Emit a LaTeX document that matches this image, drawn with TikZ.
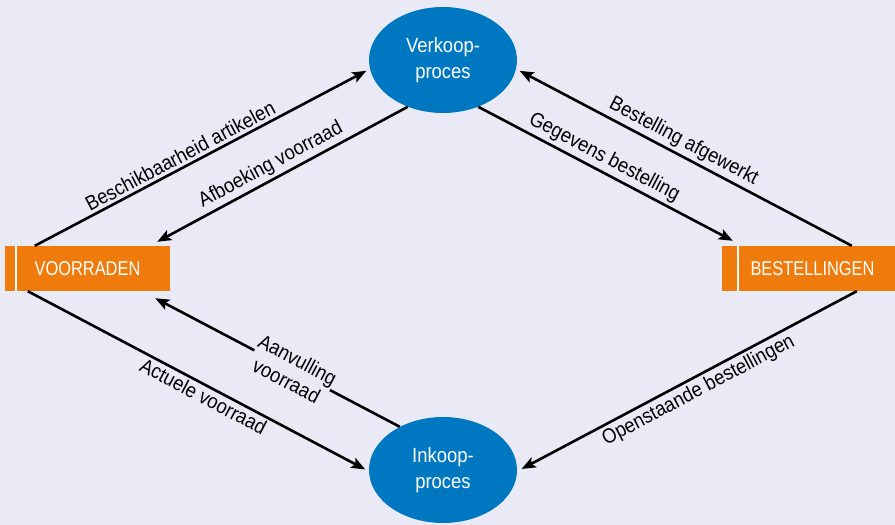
\documentclass[tikz,border=0pt]{standalone}
\usepackage{fontspec}
\setmainfont{Liberation Sans}
\newfontfamily\boxfont{Liberation Sans}[FakeStretch=0.82]
\newfontfamily\lblfont{Liberation Sans}[FakeStretch=0.9]
\usetikzlibrary{arrows.meta,calc,shapes.geometric}

\definecolor{bgcol}{HTML}{E9EAF6}
\definecolor{procblue}{HTML}{0078C1}
\definecolor{storeorange}{HTML}{EF7B0C}

\tikzset{
  proc/.style={ellipse, fill=procblue, text=white, minimum width=148pt,
    minimum height=106pt, inner sep=0pt, align=center,
    font=\lblfont\fontsize{20.5}{26}\selectfont},
  store/.style={rectangle, fill=storeorange, text=white, minimum height=45pt,
    inner sep=0pt, font=\boxfont\fontsize{20}{23}\selectfont},
  flow/.style={line width=2.6pt, -{Stealth[length=14pt,width=11pt,inset=3pt]}},
  lbl/.style={sloped, inner sep=2pt, text=black,
    font=\lblfont\fontsize{20.5}{24}\selectfont},
  divider/.style={white, line width=2pt}
}

\begin{document}
\begin{tikzpicture}[x=1pt,y=-1pt]
  % page and background
  \fill[bgcol] (0,0) rectangle (895,525);
  \useasboundingbox (0,0) rectangle (895,525);

  % processes
  \node[proc] (verk) at (443,60) {Verkoop-\\proces};
  \node[proc] (ink) at (443,470) {Inkoop-\\proces};

  % data stores
  \node[store, minimum width=165pt] (voor) at (87.5,268.5) {VOORRADEN};
  \node[store, minimum width=173pt,
        label={[text=white, font=\boxfont\fontsize{20}{23}\selectfont, xshift=4pt]center:BESTELLINGEN}]
        (best) at (808.5,268.5) {};
  \draw[divider] ([xshift=11pt]voor.north west) -- ([xshift=11pt]voor.south west);
  \draw[divider] ([xshift=16pt]best.north west) -- ([xshift=16pt]best.south west);

  % flows between stores and processes
  \draw[flow, shorten >=4pt] ([xshift=30pt]voor.north west) -- (verk.187)
    node[lbl, pos=0.45, above=1pt] {Beschikbaarheid artikelen};
  \draw[flow] (verk.233) -- ([xshift=-13pt,yshift=4pt]voor.north east)
    node[lbl, pos=0.52, above=1pt] {Afboeking voorraad};
  \draw[flow, shorten >=4pt] ([xshift=130pt]best.north west) -- (verk.353)
    node[lbl, pos=0.52, above=1pt] {Bestelling afgewerkt};
  \draw[flow] (verk.307) -- ([xshift=11pt,yshift=5pt]best.north west)
    node[lbl, pos=0.47, above=1pt] {Gegevens bestelling};
  \draw[flow, shorten >=4pt] ([xshift=23pt]voor.south west) -- (ink.181)
    node[lbl, pos=0.53, below=0pt] {Actuele voorraad};
  \draw[flow] (ink.135) -- ([xshift=-15pt,yshift=-7pt]voor.south east)
    node[lbl, pos=0.44, fill=bgcol, inner xsep=0pt, align=center] {Aanvulling\\voorraad};
  \draw[flow, shorten >=5pt] ([xshift=135pt]best.south west) -- (ink.359)
    node[lbl, pos=0.485, below=1pt] {Openstaande bestellingen};
\end{tikzpicture}
\end{document}
